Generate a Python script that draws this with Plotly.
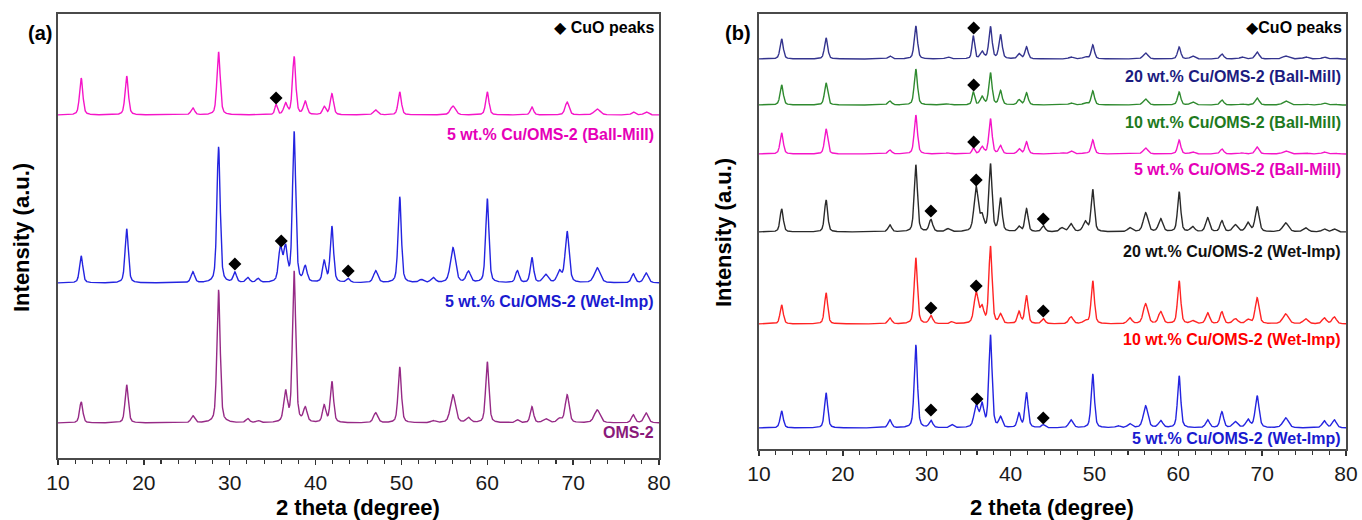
import numpy as np
import plotly.graph_objects as go

W, H = 1362, 520
FONT = "Liberation Sans, Arial, DejaVu Sans, sans-serif"

# ---------------- data: 2-theta axis ----------------
two_theta_range = [10, 80]

# ---------------- panel (a): peak list (deg), FWHM (deg), intensities (a.u.) ----------------
peaks_a = [12.7, 18.0, 25.7, 28.7, 30.6, 32.1, 33.3, 35.4, 35.9, 36.5,
           37.5, 38.8, 41.0, 41.9, 43.8, 47.0, 49.8, 52.3, 53.7, 56.0,
           57.8, 60.0, 63.5, 65.2, 66.8, 68.4, 69.3, 72.8, 77.0, 78.5]
fwhm_a = [0.45, 0.45, 0.5, 0.45, 0.45, 0.5, 0.5, 0.35, 0.5, 0.5,
          0.45, 0.5, 0.45, 0.45, 0.5, 0.6, 0.45, 0.6, 0.6, 0.7,
          0.6, 0.45, 0.5, 0.45, 0.7, 0.6, 0.55, 0.8, 0.5, 0.6]
int_a_ballmill5 = [37, 39, 7, 63, 0, 0, 0, 10, 0, 11,
                   58, 13, 8, 21, 0, 5, 23, 0, 0, 9,
                   0, 23, 0, 8, 0, 0, 13, 6, 3, 3]
int_a_wetimp5 = [27, 54, 11, 136, 10, 5, 4, 0, 34, 33,
                 150, 15, 21, 56, 4, 12, 86, 3, 5, 35,
                 11, 84, 12, 25, 8, 11, 51, 15, 9, 10]
int_a_oms2 = [21, 38, 7, 133, 0, 4, 2, 0, 0, 30,
              151, 14, 17, 41, 0, 10, 56, 0, 2, 28,
              5, 61, 3, 16, 4, 4, 28, 13, 8, 10]
offset_a = [343, 175, 35]          # stacking offsets (a.u.)
labels_a = ["5 wt.% Cu/OMS-2 (Ball-Mill)", "5 wt.% Cu/OMS-2 (Wet-Imp)", "OMS-2"]
cuo_a_x = [35.4, 30.6, 36.0, 43.8]
cuo_a_y = [360, 194, 217, 187]

# ---------------- panel (b) ----------------
peaks_b = [12.7, 18.0, 25.6, 28.7, 30.5, 32.5, 33.0, 35.55, 35.9, 36.6,
           37.6, 38.8, 41.0, 41.9, 43.9, 46.1, 47.2, 48.9, 49.8, 52.8,
           54.2, 56.1, 57.9, 60.1, 61.7, 63.5, 65.2, 66.8, 67.6, 68.3,
           69.4, 72.8, 75.2, 77.4, 78.6]
fwhm_b = [0.45, 0.45, 0.5, 0.45, 0.5, 0.6, 0.5, 0.35, 0.6, 0.5,
          0.45, 0.45, 0.45, 0.45, 0.5, 0.6, 0.6, 0.6, 0.45, 0.6,
          0.6, 0.65, 0.6, 0.45, 0.6, 0.55, 0.5, 0.7, 0.6, 0.6,
          0.55, 0.8, 0.7, 0.6, 0.6]
int_b_ballmill20 = [20, 21, 3, 33, 0, 2, 0, 23, 0, 7, 32, 24, 5, 12, 0, 0, 2, 2, 14, 0,
                    0, 6, 0, 12, 3, 0, 5, 0, 2, 0, 7, 3, 2, 2, 1]
int_b_ballmill10 = [20, 22, 4, 36, 0, 1, 0, 13, 0, 8, 32, 14, 5, 12, 0, 0, 2, 2, 14, 0,
                    0, 6, 0, 13, 3, 0, 5, 0, 1, 0, 7, 4, 1, 2, 1]
int_b_ballmill5 = [21, 25, 4, 39, 0, 1, 0, 6, 0, 7, 35, 8, 5, 12, 0, 1, 3, 1, 14, 0,
                   0, 6, 0, 14, 2, 0, 5, 0, 1, 0, 7, 3, 1, 2, 1]
int_b_wetimp20 = [23, 32, 7, 67, 12, 3, 0, 0, 44, 14, 67, 33, 5, 23, 6, 4, 8, 10, 42, 0,
                  4, 19, 13, 40, 5, 14, 11, 7, 0, 9, 25, 9, 4, 3, 3]
int_b_wetimp10 = [19, 31, 6, 66, 8, 0, 2, 0, 31, 15, 77, 9, 12, 28, 5, 0, 7, 3, 43, 0,
                  6, 20, 12, 43, 3, 11, 12, 5, 0, 4, 26, 10, 5, 6, 7]
int_b_wetimp5 = [17, 35, 8, 83, 7, 0, 3, 0, 22, 22, 92, 10, 14, 35, 3, 0, 8, 0, 54, 2,
                 4, 22, 7, 52, 0, 8, 16, 6, 0, 8, 32, 10, 0, 7, 8]
offset_b = [390, 344, 295, 217, 125, 21]
labels_b = ["20 wt.% Cu/OMS-2 (Ball-Mill)", "10 wt.% Cu/OMS-2 (Ball-Mill)",
            "5 wt.% Cu/OMS-2 (Ball-Mill)", "20 wt.% Cu/OMS-2 (Wet-Imp)",
            "10 wt.% Cu/OMS-2 (Wet-Imp)", "5 wt.% Cu/OMS-2 (Wet-Imp)"]
cuo_b_x = [35.6, 35.6, 35.6, 30.5, 35.9, 43.9, 30.5, 35.9, 43.9, 30.5, 36.0, 43.9]
cuo_b_y = [421, 364, 307, 238, 269, 230, 141, 163, 138, 39, 50, 31]

# ---------------- styles ----------------
colors_a = ["#f515c8", "#2424e0", "#962a86"]
label_colors_a = ["#e600b8", "#1a1ad0", "#8a1a7a"]
colors_b = ["#34348e", "#2f8a2f", "#f515c8", "#2a2a2a", "#ff2424", "#2424e0"]
label_colors_b = ["#1c1c80", "#1e7a1e", "#e600b8", "#111111", "#ff0000", "#1a1ad0"]


def profile(x, pos, fw, hts):
    y = np.zeros_like(x)
    for p, w, h in zip(pos, fw, hts):
        if h == 0:
            continue
        d = (x - p) / w
        g = np.exp(-4 * np.log(2) * d * d)
        l = 1.0 / (1.0 + 4 * d * d)
        y += h * (0.55 * g + 0.45 * l)
    return y


x = np.linspace(two_theta_range[0], two_theta_range[1], 4201)

fig = go.Figure()
for hts, off, c in zip([int_a_ballmill5, int_a_wetimp5, int_a_oms2], offset_a, colors_a):
    fig.add_trace(go.Scatter(x=x, y=profile(x, peaks_a, fwhm_a, hts) + off, mode="lines",
                             line=dict(color=c, width=1.4), xaxis="x", yaxis="y",
                             hoverinfo="skip"))
fig.add_trace(go.Scatter(x=cuo_a_x, y=cuo_a_y, mode="markers", xaxis="x", yaxis="y",
                         marker=dict(symbol="diamond", size=10, color="black")))

for hts, off, c in zip([int_b_ballmill20, int_b_ballmill10, int_b_ballmill5,
                        int_b_wetimp20, int_b_wetimp10, int_b_wetimp5], offset_b, colors_b):
    fig.add_trace(go.Scatter(x=x, y=profile(x, peaks_b, fwhm_b, hts) + off, mode="lines",
                             line=dict(color=c, width=1.4), xaxis="x2", yaxis="y2",
                             hoverinfo="skip"))
fig.add_trace(go.Scatter(x=cuo_b_x, y=cuo_b_y, mode="markers", xaxis="x2", yaxis="y2",
                         marker=dict(symbol="diamond", size=10, color="black")))


def px(xp):
    # page pixel -> paper fraction
    return xp / W


def py(yp):
    return 1 - yp / H


xcommon = dict(range=two_theta_range, tickmode="linear", tick0=10, dtick=10,
               ticks="outside", ticklen=5, tickwidth=1.3, tickcolor="#333",
               minor=dict(tick0=10, dtick=2, ticks="outside", ticklen=4, tickwidth=1.1,
                          tickcolor="#333"),
               showline=True, linecolor="#4a4a4a", linewidth=1.6, mirror=True,
               showgrid=False, zeroline=False, automargin=False,
               tickfont=dict(family=FONT, size=21, color="#1a1a1a"))
ycommon = dict(showticklabels=False, ticks="", showline=True, linecolor="#4a4a4a",
               linewidth=1.6, mirror=True, showgrid=False, zeroline=False, automargin=False)

fig.update_layout(
    width=W, height=H, margin=dict(l=0, r=0, t=0, b=0),
    paper_bgcolor="white", plot_bgcolor="white", showlegend=False,
    xaxis=dict(domain=[px(58), px(659)], anchor="y", **xcommon),
    yaxis=dict(domain=[py(458), py(14)], range=[0, 444], anchor="x", **ycommon),
    xaxis2=dict(domain=[px(759), px(1346)], anchor="y2", **xcommon),
    yaxis2=dict(domain=[py(449), py(14)], range=[0, 435], anchor="x2", **ycommon),
)

ann = []


def add_text(text, xp, yp, size, color="black", xanchor="center", angle=0, bold=True):
    ann.append(dict(text=f"<b>{text}</b>" if bold else text, x=px(xp), y=py(yp),
                    xref="paper", yref="paper", showarrow=False, xanchor=xanchor,
                    yanchor="middle", textangle=angle,
                    font=dict(family=FONT, size=size, color=color)))


add_text("(a)", 40, 33, 20)
add_text("(b)", 738, 33, 20)
add_text("◆ CuO peaks", 656, 27, 16, xanchor="right")
add_text("◆CuO peaks", 1344, 27, 16, xanchor="right")
add_text("2 theta (degree)", 358, 507, 22)
add_text("2 theta (degree)", 1052, 507, 22)
add_text("Intensity (a.u.)", 22, 238, 22, angle=-90)
add_text("Intensity (a.u.)", 724, 233, 22, angle=-90)

for t, yp, c in zip(labels_a, [135, 301, 432], label_colors_a):
    add_text(t, 656, yp, 16, color=c, xanchor="right")
for t, yp, c in zip(labels_b, [76, 122, 170, 251, 339, 438], label_colors_b):
    add_text(t, 1343, yp, 16, color=c, xanchor="right")

fig.update_layout(annotations=ann)
# remove the browser's default 8px body margin so the figure fills the window exactly
fig.write_html("out.html",
               config={"displayModeBar": False, "staticPlot": True},
               post_script="document.body.style.margin='0';document.body.style.overflow='hidden';")
